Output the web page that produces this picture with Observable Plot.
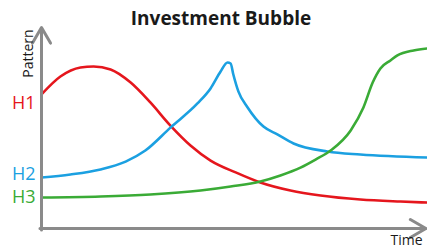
<!DOCTYPE html>
<html><head><meta charset="utf-8">
<script src="https://cdn.jsdelivr.net/npm/d3@7"></script>
<script src="https://cdn.jsdelivr.net/npm/@observablehq/plot@0.6"></script>
<style>
body{margin:0;background:#fff;font-family:"Open Sans",sans-serif;}
#wrap{position:relative;width:427px;height:249px;}
#title{position:absolute;left:0;width:442px;top:5px;text-align:center;font:bold 19px "Open Sans",sans-serif;color:#1a1a1a;}
</style></head>
<body><div id="wrap"><div id="title">Investment Bubble</div></div>
<script>
// time (0–100) and pattern level (0–100)
const redTime  = [0,4.9,10.1,13.5,17.9,23.1,28.2,33.4,38.6,43.8,50.3,56.7,64.5,72.3,82.6,93.0,100];
const redVal   = [66.7,75.6,80.1,80.6,79.1,72.6,62.7,51.2,41.3,33.8,27.9,22.9,18.9,16.4,14.4,13.4,12.9];
const blueTime = [0,7.5,15.3,21.8,26.9,33.4,40.4,43.8,46.4,48.2,49.0,49.7,51.0,53.4,57.5,61.1,65.3,74.1,82.6,100];
const blueVal  = [25.4,26.9,29.4,33.3,38.8,50.2,62.2,69.7,78.1,82.6,82.1,76.6,68.2,60.2,50.7,46.8,42.3,38.3,36.8,35.3];
const greenTime= [0,15.3,28.2,41.2,49.0,56.7,61.9,67.1,71.0,74.9,80.1,83.4,85.8,87.8,90.4,92.2,96.4,100];
const greenVal = [15.4,15.9,16.9,18.9,20.9,23.4,26.4,30.3,34.3,38.8,48.8,60.2,72.6,79.6,83.6,86.1,88.6,89.6];
const seriesNames = ["H1","H2","H3"];
const seriesColors = ["#e5161d","#1ba0e1","#3aab36"];
const labelLevels = [62.2,26.9,15.4];

const series = [[redTime,redVal],[blueTime,blueVal],[greenTime,greenVal]];
const rows = series.flatMap(([t,v],i)=>t.map((x,j)=>({x, y:v[j], s:seriesNames[i]})));
const labels = seriesNames.map((s,i)=>({s, y:labelLevels[i], c:seriesColors[i]}));
const axisColor = "#8a8a8a";

const chart = Plot.plot({
  width:427, height:249,
  marginLeft:41, marginRight:0, marginTop:27, marginBottom:21,
  x:{domain:[0,100], axis:null},
  y:{domain:[0,100], axis:null},
  color:{domain:seriesNames, range:seriesColors},
  style:{fontFamily:"Open Sans, sans-serif", background:"#fff"},
  marks:[
    Plot.line(rows,{x:"x",y:"y",z:"s",stroke:"s",strokeWidth:2.6,curve:"monotone-x"}),
    Plot.arrow([{x1:0,y1:-0.7,x2:0,y2:100}],{x1:"x1",y1:"y1",x2:"x2",y2:"y2",stroke:axisColor,strokeWidth:3,headLength:9,bend:0}),
    Plot.arrow([{x1:-0.4,y1:0,x2:99.6,y2:0}],{x1:"x1",y1:"y1",x2:"x2",y2:"y2",stroke:axisColor,strokeWidth:3,headLength:9,bend:0}),
    Plot.text(labels,{x:()=>0,y:"y",text:"s",fill:"c",dx:-6,textAnchor:"end",fontSize:18,fontWeight:500}),
    Plot.text(["Pattern"],{frameAnchor:"top-left",rotate:-90,dx:-18,dy:26,fontSize:14,fill:"#1a1a1a",textAnchor:"middle"}),
    Plot.text(["Time"],{frameAnchor:"bottom-right",dx:-21,dy:16,fontSize:14,fill:"#1a1a1a",textAnchor:"middle"})
  ]
});
document.getElementById("wrap").prepend(chart);
</script></body></html>
